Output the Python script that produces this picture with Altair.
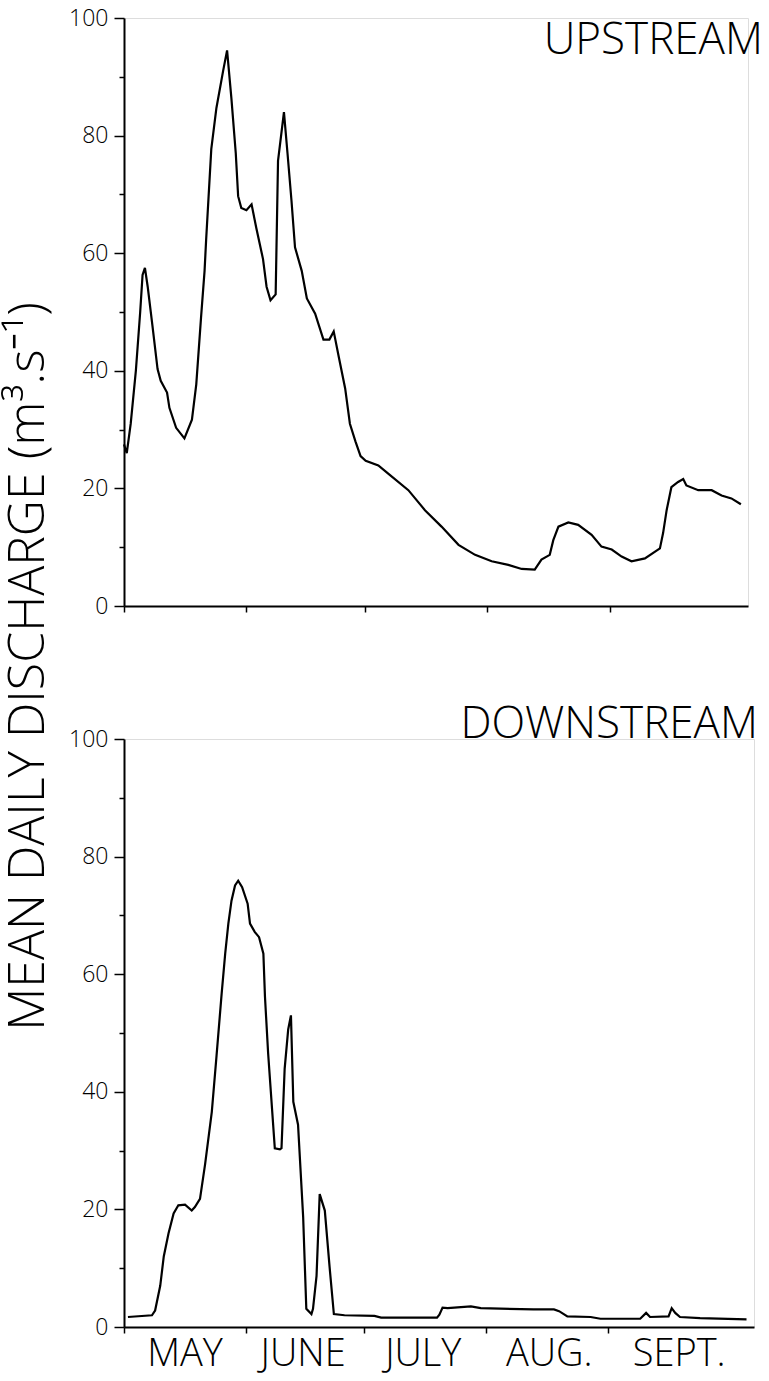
import altair as alt
import pandas as pd

# Days counted from 1 May; discharge in m3/s
up_day = [0, 0.7, 1.7, 3, 4.1, 4.7, 5.3, 6, 7.2, 8.5, 9.3, 10.9, 11.5, 13.2, 15.3,
          17.2, 18.3, 19.5, 20.4, 20.8, 22.1, 23.4, 25.1, 26.1, 27.2, 28.3, 28.9,
          29.7, 31, 32.3, 33.5, 35.2, 36.1, 37.1, 38.4, 39, 40.5, 41.4, 42.4, 43.3,
          45, 46.3, 48.4, 50.5, 52, 53.1, 54.4, 56, 57.2, 58.6, 59.9, 61.2, 64.4,
          66.9, 72, 76.2, 80.4, 84.7, 88.9, 93.1, 97.3, 100.7, 104, 105.7, 107.8,
          108.7, 110, 112.5, 115, 118.4, 120.9, 123.5, 126, 128.5, 131.9, 135.7,
          136.5, 137.4, 138.6, 140.3, 141.6, 142.4, 145.4, 148.8, 151.3, 153.8, 156.2]
up_q = [27.5, 26, 31, 40, 50, 56.3, 57.5, 54.3, 47.7, 40.3, 38.3, 36.3, 33.7, 30.3, 28.5,
        31.7, 37.7, 49, 57, 62.3, 77.7, 84.7, 91, 94.5, 86.3, 77, 69.7,
        67.7, 67.3, 68.3, 64.3, 59, 54.3, 52, 53, 75.7, 84, 77, 69, 61,
        57, 52.3, 49.7, 45.3, 45.3, 46.7, 42.3, 37, 31, 28, 25.5, 24.7, 23.9,
        22.5, 19.7, 16.3, 13.5, 10.4, 8.7, 7.6, 7, 6.3, 6.2, 7.9, 8.7,
        11.2, 13.5, 14.2, 13.8, 12.1, 10.1, 9.6, 8.4, 7.6, 8.1, 9.8,
        12.4, 16.3, 20.2, 21.1, 21.6, 20.5, 19.7, 19.7, 18.8, 18.3, 17.3]

down_day = [1, 7.1, 7.9, 9.2, 10.1, 11.3, 12.6, 13.8, 15.5, 17.2, 18, 19.3, 20.6, 22.3,
            23.5, 24.8, 25.7, 26.5, 27.3, 28.2, 29, 30, 31.4, 32, 33.2, 34.3, 35.4,
            35.8, 36.6, 38.3, 39.6, 40, 40.8, 41.7, 42.4, 43, 44.2, 45.5, 46.3, 47.6,
            48, 48.9, 49.7, 51, 52.2, 53.3, 56, 63.6, 65.3, 79.5, 80.1, 80.9, 82.2,
            88.1, 90.6, 104, 109.2, 110.5, 112.6, 118.5, 121, 131.1, 132.6, 133.6,
            138.3, 139.1, 140, 141.2, 146.3, 158.1]
down_q = [1.7, 2.0, 2.8, 7, 12, 15.9, 19.3, 20.7, 20.8, 19.8, 20.4, 21.8, 27.7, 36.6,
          46.1, 56.7, 63.5, 68.6, 72.5, 75.1, 75.9, 74.8, 72, 68.6, 67.2, 66.3, 63.5,
          56.2, 46.6, 30.4, 30.2, 30.4, 43.9, 50.6, 53, 38.3, 34.4, 18.7, 3.1, 2.2,
          3.1, 8.7, 22.6, 19.8, 10.3, 2.2, 2.0, 1.9, 1.6, 1.6, 2.1, 3.3, 3.2,
          3.5, 3.2, 3.0, 3.0, 2.7, 1.8, 1.7, 1.4, 1.4, 2.4, 1.7,
          1.8, 3.2, 2.4, 1.7, 1.5, 1.3]

month_names = ["MAY", "JUNE", "JULY", "AUG.", "SEPT."]
month_start = [0, 31, 61, 92, 123]
month_mid = [15.5, 45.5, 76, 108, 141]
y_ticks = [0, 10, 20, 30, 40, 50, 60, 70, 80, 90, 100]

FONT = "Open Sans"
WEIGHT = 300


def panel(days, q, label, xmax, width, height, label_dx, label_dy, with_months):
    df = pd.DataFrame({"day": days, "q": q})
    x = alt.X(
        "day:Q",
        scale=alt.Scale(domain=[0, xmax], nice=False, zero=False),
        axis=alt.Axis(values=month_start, labels=False, title=None, tickSize=6,
                      tickWidth=1.5, domainWidth=2, domainColor="black",
                      tickColor="black", grid=False),
    )
    y = alt.Y(
        "q:Q",
        scale=alt.Scale(domain=[0, 100], nice=False),
        axis=alt.Axis(values=y_ticks, title=None, grid=False,
                      labelExpr="datum.value % 20 === 0 ? datum.label : ''",
                      tickSize={"condition": {"test": "datum.value % 20 === 0", "value": 10},
                                "value": 5},
                      tickWidth=1.5, domainWidth=2, domainColor="black",
                      tickColor="black", labelColor="black", labelFont=FONT,
                      labelFontWeight=WEIGHT, labelFontSize=23, labelPadding=6),
    )
    line = alt.Chart(df).mark_line(color="black", strokeWidth=2.2).encode(x=x, y=y)
    name = alt.Chart(pd.DataFrame({"t": [label]})).mark_text(
        align="right", baseline="alphabetic", font=FONT, fontWeight=WEIGHT,
        fontSize=44, color="black"
    ).encode(x=alt.value(width + label_dx), y=alt.value(label_dy), text="t:N")
    layers = [line, name]
    if with_months:
        months = pd.DataFrame({"mid": month_mid, "name": month_names})
        layers.append(
            alt.Chart(months).mark_text(
                baseline="alphabetic", font=FONT, fontWeight=WEIGHT, fontSize=38,
                color="black"
            ).encode(x="mid:Q", y=alt.value(height + 39), text="name:N")
        )
    return alt.layer(*layers).properties(width=width, height=height)


top = panel(up_day, up_q, "UPSTREAM", 158, 624, 588, 15, 36, False)
bottom = panel(down_day, down_q, "DOWNSTREAM", 160, 630, 588, 4, -1, True)

chart = alt.vconcat(top, bottom, spacing=83).properties(
    title=alt.TitleParams(
        text="MEAN DAILY DISCHARGE (m³.s⁻¹)", orient="left", anchor="middle",
        font=FONT, fontSize=50, fontWeight=WEIGHT, color="black", offset=14, dx=24,
    ),
    padding={"left": 4, "top": 6, "right": 4, "bottom": 6},
).configure_view(stroke=None).configure(background="white")

chart.save("out.html", embed_options={"renderer": "svg", "actions": False})
